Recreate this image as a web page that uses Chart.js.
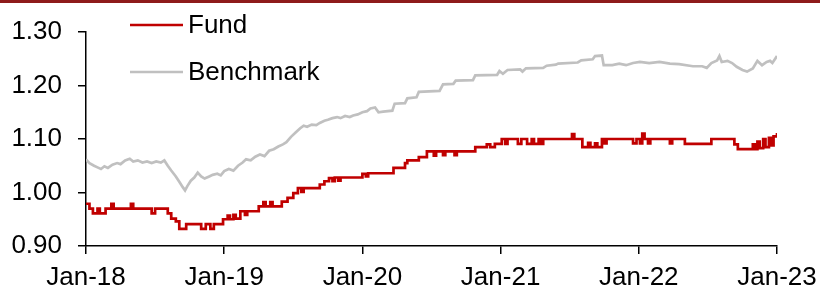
<!DOCTYPE html>
<html>
<head>
<meta charset="utf-8">
<script src="https://cdn.jsdelivr.net/npm/chart.js@4.4.0/dist/chart.umd.min.js"></script>
<style>
  body { margin: 0; background: #fff; }
  #wrap { position: relative; width: 820px; height: 288px; }
  #topline { position: absolute; left: 0; top: 0; width: 820px; height: 3px; background: #8e1b1b; }
</style>
</head>
<body>
<div id="wrap">
  <canvas id="myChart" width="820" height="288"></canvas>
  <div id="topline"></div>
</div>
<script>
// DATA (x = months since Jan-18)
var fundMonths = [0, 0.3, 0.6, 1.0, 1.2, 1.7, 2.2, 2.4, 3.9, 4.1, 5.7, 6.0, 7.1, 7.4, 7.8, 8.1, 8.7, 10.0, 10.4, 10.8, 11.1, 11.9, 12.3, 12.5, 12.8, 13.0, 13.4, 13.8, 14.0, 15.0, 15.4, 15.6, 16.0, 16.2, 17.0, 17.5, 18.0, 18.4, 18.7, 18.9, 20.3, 20.7, 21.1, 21.4, 21.6, 21.9, 22.1, 24.0, 24.3, 24.5, 26.7, 27.7, 27.9, 28.9, 29.6, 30.2, 30.4, 31.0, 31.2, 32.0, 32.2, 33.8, 34.8, 35.1, 35.5, 36.1, 36.4, 36.6, 37.5, 37.8, 38.3, 38.7, 38.9, 39.3, 39.5, 39.7, 42.2, 42.4, 43.1, 43.6, 43.8, 44.2, 44.4, 44.8, 45.0, 45.2, 47.5, 47.8, 48.1, 48.3, 48.5, 48.8, 49.0, 50.7, 50.9, 52.0, 54.3, 56.3, 56.6, 57.9, 58.1, 58.3, 58.5, 58.8, 59.0, 59.3, 59.5, 59.7, 60.0];
var fundValues = [0.979, 0.970, 0.961, 0.970, 0.961, 0.970, 0.979, 0.970, 0.979, 0.970, 0.961, 0.970, 0.961, 0.951, 0.946, 0.932, 0.941, 0.932, 0.941, 0.932, 0.941, 0.950, 0.957, 0.950, 0.958, 0.951, 0.965, 0.958, 0.965, 0.974, 0.982, 0.974, 0.982, 0.974, 0.983, 0.990, 0.999, 1.008, 1.001, 1.008, 1.015, 1.021, 1.027, 1.021, 1.028, 1.022, 1.028, 1.035, 1.030, 1.036, 1.046, 1.055, 1.060, 1.066, 1.077, 1.069, 1.077, 1.070, 1.077, 1.070, 1.077, 1.085, 1.090, 1.085, 1.091, 1.100, 1.091, 1.100, 1.091, 1.100, 1.091, 1.100, 1.091, 1.100, 1.091, 1.100, 1.109, 1.100, 1.085, 1.093, 1.085, 1.092, 1.085, 1.100, 1.092, 1.100, 1.092, 1.100, 1.092, 1.110, 1.100, 1.092, 1.100, 1.092, 1.100, 1.091, 1.100, 1.090, 1.081, 1.090, 1.081, 1.095, 1.083, 1.100, 1.085, 1.102, 1.088, 1.105, 1.111];

var benchMonths = [0.0, 0.3, 0.7, 1.0, 1.3, 1.6, 1.9, 2.3, 2.7, 3.0, 3.4, 3.8, 4.1, 4.5, 4.9, 5.3, 5.7, 6.1, 6.5, 6.8, 7.1, 7.4, 7.8, 8.1, 8.4, 8.6, 8.8, 9.1, 9.4, 9.7, 10.0, 10.3, 10.7, 11.0, 11.4, 11.7, 12.0, 12.4, 12.8, 13.2, 13.6, 13.9, 14.3, 14.7, 15.1, 15.5, 15.9, 16.3, 16.7, 17.1, 17.4, 17.8, 18.2, 18.6, 18.9, 19.2, 19.6, 20.0, 20.3, 20.7, 21.0, 21.4, 21.8, 22.1, 22.5, 22.9, 23.2, 23.6, 24.0, 24.4, 24.7, 25.1, 25.4, 25.8, 26.6, 26.8, 27.7, 27.9, 28.7, 28.9, 30.7, 31.0, 31.9, 32.1, 33.6, 33.8, 35.7, 35.9, 36.2, 36.6, 37.7, 37.9, 38.2, 39.7, 40.0, 40.8, 41.0, 42.7, 43.0, 44.0, 44.2, 44.8, 44.95, 45.7, 46.3, 46.9, 47.5, 48.1, 48.9, 49.8, 50.7, 51.5, 52.7, 53.5, 53.9, 54.3, 54.8, 55.0, 55.2, 55.7, 56.1, 56.5, 57.0, 57.4, 57.9, 58.3, 58.7, 59.1, 59.4, 59.6, 60.0];
var benchValues = [1.062, 1.055, 1.050, 1.047, 1.044, 1.049, 1.046, 1.052, 1.055, 1.053, 1.060, 1.063, 1.058, 1.060, 1.056, 1.058, 1.055, 1.058, 1.056, 1.060, 1.050, 1.041, 1.030, 1.020, 1.010, 1.004, 1.012, 1.022, 1.028, 1.037, 1.030, 1.026, 1.030, 1.033, 1.035, 1.032, 1.040, 1.044, 1.041, 1.050, 1.056, 1.062, 1.060, 1.067, 1.071, 1.068, 1.078, 1.081, 1.086, 1.090, 1.094, 1.104, 1.112, 1.120, 1.125, 1.123, 1.127, 1.126, 1.130, 1.134, 1.136, 1.139, 1.141, 1.139, 1.143, 1.141, 1.144, 1.146, 1.150, 1.152, 1.157, 1.159, 1.150, 1.151, 1.153, 1.166, 1.167, 1.176, 1.178, 1.188, 1.190, 1.202, 1.203, 1.209, 1.210, 1.219, 1.220, 1.227, 1.222, 1.229, 1.230, 1.226, 1.232, 1.233, 1.237, 1.239, 1.241, 1.243, 1.247, 1.249, 1.255, 1.256, 1.238, 1.238, 1.241, 1.238, 1.242, 1.244, 1.242, 1.244, 1.241, 1.240, 1.236, 1.236, 1.233, 1.242, 1.247, 1.255, 1.244, 1.246, 1.242, 1.235, 1.229, 1.226, 1.232, 1.246, 1.238, 1.244, 1.246, 1.242, 1.255];

var xTickMonths = [0, 12, 24, 36, 48, 60];
var xTickLabels = ['Jan-18', 'Jan-19', 'Jan-20', 'Jan-21', 'Jan-22', 'Jan-23'];
var yTickValues = [0.9, 1.0, 1.1, 1.2, 1.3];

function toPoints(xs, ys) {
    var pts = [];
    for (var i = 0; i < xs.length; i++) pts.push({ x: xs[i], y: ys[i] });
    return pts;
}

var FONT = "'Liberation Sans', Arial, sans-serif";

// LEGEND DRAWN BY HAND (two rows top left)
var legendPlugin = {
    id: 'handLegend',
    afterDraw: function (chart) {
        var c = chart.ctx;
        c.save();
        chart.data.datasets.forEach(function (ds, i) {
            var y = 25 + i * 47;
            c.strokeStyle = ds.borderColor;
            c.lineWidth = 2.5;
            c.beginPath();
            c.moveTo(130, y);
            c.lineTo(183, y);
            c.stroke();
            c.fillStyle = '#000';
            c.font = '26px ' + FONT;
            c.textBaseline = 'middle';
            c.fillText(ds.label, 188, y + 1);
        });
        c.restore();
    }
};

var ctx = document.getElementById('myChart').getContext('2d');
var myChart = new Chart(ctx, {
    type: 'line',
    data: {
        datasets: [{
            label: 'Fund',
            data: toPoints(fundMonths, fundValues),
            borderColor: '#c00000',
            borderWidth: 2.7,
            stepped: 'before',
            pointRadius: 0,
            order: 1
        }, {
            label: 'Benchmark',
            data: toPoints(benchMonths, benchValues),
            borderColor: '#c0c0c0',
            borderWidth: 2.7,
            tension: 0,
            pointRadius: 0,
            order: 2
        }]
    },
    options: {
        responsive: false,
        animation: false,
        layout: { padding: { left: 0, right: 43, top: 32, bottom: 0 } },
        plugins: {
            legend: { display: false },
            tooltip: { enabled: false }
        },
        scales: {
            x: {
                type: 'linear',
                min: 0,
                max: 60,
                afterBuildTicks: function (scale) {
                    scale.ticks = xTickMonths.map(function (v) { return { value: v }; });
                },
                afterFit: function (scale) {
                    scale.height = 42;
                    scale.paddingLeft = 0;
                    scale.paddingRight = 0;
                },
                ticks: {
                    autoSkip: false,
                    maxRotation: 0,
                    padding: 8,
                    color: '#000',
                    font: { family: FONT, size: 26 },
                    callback: function (v) { return xTickLabels[xTickMonths.indexOf(v)]; }
                },
                grid: { drawOnChartArea: false, color: '#000', tickLength: 8, lineWidth: 1.5 },
                border: { color: '#000', width: 1.5 }
            },
            y: {
                min: 0.9,
                max: 1.3,
                afterBuildTicks: function (scale) {
                    scale.ticks = yTickValues.map(function (v) { return { value: v }; });
                },
                afterFit: function (scale) { scale.width = 86; },
                ticks: {
                    padding: 16,
                    color: '#000',
                    font: { family: FONT, size: 26 },
                    callback: function (v) { return v.toFixed(2); }
                },
                grid: { drawOnChartArea: false, color: '#000', tickLength: 8, lineWidth: 1.5 },
                border: { color: '#000', width: 1.5 }
            }
        }
    },
    plugins: [legendPlugin]
});
</script>
</body>
</html>
